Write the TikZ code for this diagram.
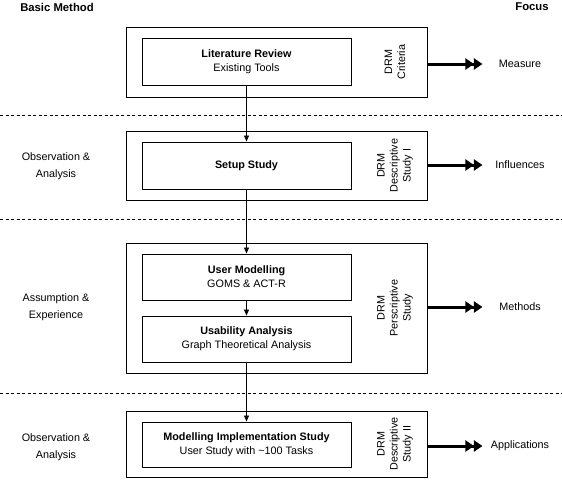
\documentclass[tikz,border=0pt]{standalone}
\usepackage{fontspec}
\setmainfont{Liberation Sans}
\usetikzlibrary{arrows.meta}
\begin{document}
\begin{tikzpicture}[x=1pt,y=-1pt,
  every node/.style={font=\fontsize{10.8}{14}\selectfont, inner sep=0pt},
  outerbox/.style={draw, line width=0.9pt, minimum width=301pt},
  innerbox/.style={draw, line width=0.9pt, minimum width=209pt, align=center},
  drm/.style={rotate=90, align=center, font=\fontsize{10.8}{13}\selectfont},
  sidelabel/.style={align=center, font=\fontsize{10.8}{17}\selectfont},
  sep/.style={dashed, dash pattern=on 3pt off 2.5pt, line width=0.7pt},
  flow/.style={line width=0.8pt, -{Triangle[length=6pt,width=5pt]}},
  focusarrow/.style={line width=3pt, -{Triangle[length=8.5pt,width=11pt]Triangle[length=8.5pt,width=11pt]}},
  head/.style={font=\fontsize{11.3}{13}\selectfont\bfseries}
]
\useasboundingbox (0,0) rectangle (562,480);

% headings
\node[head] (hbasic) at (57,7) {Basic Method};
\node[head] (hfocus) at (532,7) {Focus};

% separators
\coordinate (s1l) at (0,115); \coordinate (s1r) at (562,115);
\coordinate (s2l) at (0,219); \coordinate (s2r) at (562,219);
\coordinate (s3l) at (0,393); \coordinate (s3r) at (562,393);
\draw[sep] (s1l) -- (s1r);
\draw[sep] (s2l) -- (s2r);
\draw[sep] (s3l) -- (s3r);

% box 1
\node[outerbox, minimum height=70pt] (o1) at (276.5,62) {};
\node[innerbox, minimum height=47pt] (i1) at (246.5,61.5) {\textbf{Literature Review}\\Existing Tools};
\node[drm] (d1) at (395,62) {DRM\\Criteria};
\node (f1) at (520,64) {Measure};

% box 2
\node[outerbox, minimum height=69pt] (o2) at (276.5,165.5) {};
\node[innerbox, minimum height=47pt] (i2) at (246.5,165.5) {\textbf{Setup Study}};
\node[drm] (d2) at (395,165.5) {DRM\\Descriptive\\Study I};
\node (f2) at (520,165) {Influences};
\node[sidelabel] (l2) at (56,166) {Observation \&\\Analysis};

% box 3
\node[outerbox, minimum height=130pt] (o3) at (276.5,308) {};
\node[innerbox, minimum height=46pt] (i3a) at (246.5,277) {\textbf{User Modelling}\\GOMS \& ACT-R};
\node[innerbox, minimum height=46pt] (i3b) at (246.5,339) {\textbf{Usability Analysis}\\Graph Theoretical Analysis};
\node[drm] (d3) at (395,308) {DRM\\Perscriptive\\Study};
\node (f3) at (520,307) {Methods};
\node[sidelabel] (l3) at (56,307) {Assumption \&\\Experience};

% box 4
\node[outerbox, minimum height=66pt] (o4) at (276.5,444) {};
\node[innerbox, minimum height=45pt] (i4) at (246.5,444.5) {\textbf{Modelling Implementation Study}\\User Study with \textasciitilde100 Tasks};
\node[drm] (d4) at (395,444) {DRM\\Descriptive\\Study II};
\node (f4) at (520,446) {Applications};
\node[sidelabel] (l4) at (56,447) {Observation \&\\Analysis};

% flow connectors
\draw[flow] (i1.south) -- (i2.north);
\draw[flow] (i2.south) -- (i3a.north);
\draw[flow] (i3a.south) -- (i3b.north);
\draw[flow] (i3b.south) -- (i4.north);

% focus arrows
\draw[focusarrow] (o1.east |- f1) -- ++(55,0) coordinate (e1);
\draw[focusarrow] (o2.east |- f2) -- ++(55,0) coordinate (e2);
\draw[focusarrow] (o3.east |- f3) -- ++(55,0) coordinate (e3);
\draw[focusarrow] (o4.east |- f4) -- ++(55,0) coordinate (e4);
\end{tikzpicture}
\end{document}
